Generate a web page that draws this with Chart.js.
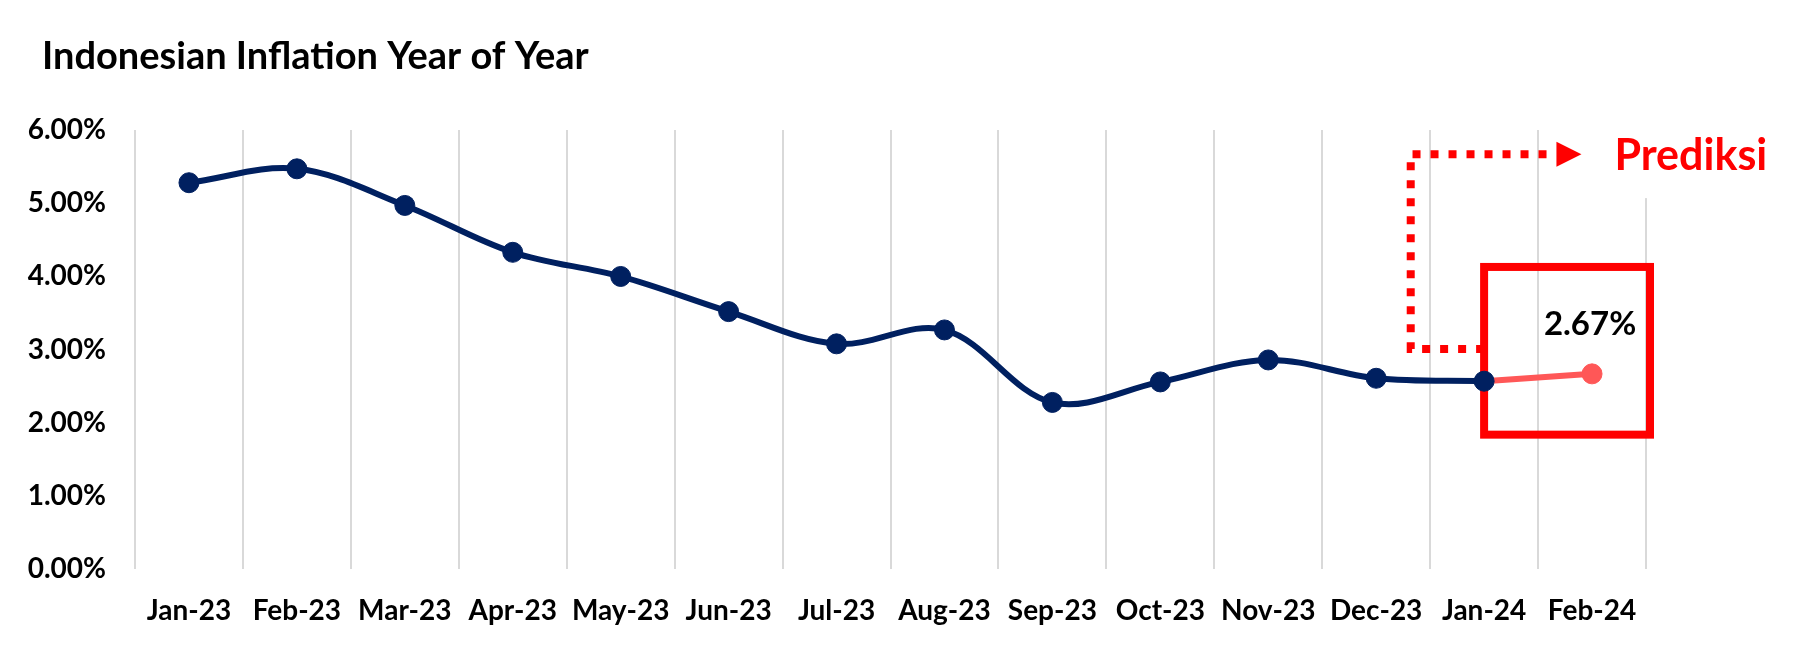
<!DOCTYPE html>
<html>
<head>
<meta charset="utf-8">
<title>Indonesian Inflation Year of Year</title>
<script src="https://cdn.jsdelivr.net/npm/chart.js@4.4.1/dist/chart.umd.min.js"></script>
<style>
  body { margin: 0; background: #fff; }
  canvas { display: block; }
</style>
</head>
<body>
<canvas id="grafik" width="1800" height="653"></canvas>
<script>
const judul = 'Indonesian Inflation Year of Year';
const bulan = ['Jan-23', 'Feb-23', 'Mar-23', 'Apr-23', 'May-23', 'Jun-23', 'Jul-23', 'Aug-23', 'Sep-23', 'Oct-23', 'Nov-23', 'Dec-23', 'Jan-24', 'Feb-24'];
const inflasi = [5.28, 5.47, 4.97, 4.33, 4.00, 3.52, 3.08, 3.27, 2.28, 2.56, 2.86, 2.61, 2.57, null];
const prediksi = [null, null, null, null, null, null, null, null, null, null, null, null, 2.57, 2.67];
const teksPrediksi = 'Prediksi';
const labelPrediksi = '2.67%';

Chart.defaults.font.family = 'Lato';

// kotak, panah dan teks "Prediksi"
const anotasi = {
    id: 'anotasi',
    beforeDatasetsDraw(chart) {
        const { ctx, scales: { x, y } } = chart;
        ctx.save();

        // latar putih di belakang teks (menutup garis grid terakhir)
        ctx.fillStyle = '#ffffff';
        const putihAtas = y.getPixelForValue(6) - 4;
        ctx.fillRect(x.right - 40, putihAtas, chart.width - x.right + 40, y.getPixelForValue(5.07) - putihAtas);

        const kiri = x.getPixelForValue(12);
        const kanan = x.right + 4;
        const atas = y.getPixelForValue(4.13);
        const bawah = y.getPixelForValue(1.84);

        // panah titik-titik
        const px = x.getPixelForValue(11.32);
        const yAtas = y.getPixelForValue(5.67);
        const yBawah = y.getPixelForValue(3.01);
        const ujung = x.getPixelForValue(12.67);
        ctx.strokeStyle = '#FF0000';
        ctx.lineWidth = 8;
        ctx.setLineDash([8, 10]);
        ctx.beginPath();
        ctx.moveTo(kiri, yBawah);
        ctx.lineTo(px, yBawah);
        ctx.lineTo(px, yAtas);
        ctx.lineTo(ujung, yAtas);
        ctx.stroke();
        ctx.setLineDash([]);

        ctx.fillStyle = '#FF0000';
        ctx.beginPath();
        ctx.moveTo(ujung, yAtas - 12.5);
        ctx.lineTo(ujung + 25, yAtas);
        ctx.lineTo(ujung, yAtas + 12.5);
        ctx.closePath();
        ctx.fill();

        // kotak merah
        ctx.strokeRect(kiri, atas, kanan - kiri, bawah - atas);

        ctx.font = 'bold 43px Lato';
        ctx.textAlign = 'left';
        ctx.textBaseline = 'middle';
        ctx.fillText(teksPrediksi, ujung + 58, yAtas + 2);
        ctx.restore();
    },
    afterDatasetsDraw(chart) {
        const { ctx } = chart;
        const titik = chart.getDatasetMeta(1).data[13];
        ctx.save();
        ctx.font = 'bold 33px Lato';
        ctx.fillStyle = '#000000';
        ctx.textAlign = 'center';
        ctx.textBaseline = 'middle';
        ctx.fillText(labelPrediksi, titik.x - 2, titik.y - 50);
        ctx.restore();
    },
    afterDraw(chart) {
        const { ctx } = chart;
        ctx.save();
        ctx.font = 'bold 38px Lato';
        ctx.fillStyle = '#000000';
        ctx.textAlign = 'left';
        ctx.textBaseline = 'alphabetic';
        ctx.fillText(judul, 42, 69);
        ctx.restore();
    }
};

const fontSumbu = { family: 'Lato', weight: 'bold' };

new Chart(document.getElementById('grafik'), {
    type: 'line',
    data: {
        labels: bulan,
        datasets: [
            {
                label: 'Inflasi',
                data: inflasi,
                borderColor: '#002060',
                backgroundColor: '#002060',
                borderWidth: 6,
                tension: 0.35,
                pointRadius: 10,
                pointBorderWidth: 1,
                pointBackgroundColor: '#002060',
                pointBorderColor: '#002060'
            },
            {
                label: 'Prediksi',
                data: prediksi,
                borderColor: '#FF5757',
                backgroundColor: '#FF5757',
                borderWidth: 6,
                pointRadius: ctx => ctx.dataIndex === 13 ? 10 : 0,
                pointBorderWidth: 1,
                pointBackgroundColor: '#FF5757',
                pointBorderColor: '#FF5757'
            }
        ]
    },
    options: {
        responsive: false,
        animation: false,
        layout: {
            padding: { top: 130, right: 154, bottom: 0, left: 27 }
        },
        plugins: {
            legend: { display: false },
            title: { display: false },
            tooltip: { enabled: false }
        },
        scales: {
            x: {
                offset: true,
                grid: { offset: true, color: '#D9D9D9', lineWidth: 2, drawTicks: false },
                border: { display: false },
                ticks: {
                    color: '#000000',
                    font: { ...fontSumbu, size: 28 },
                    padding: 25,
                    maxRotation: 0,
                    autoSkip: false
                }
            },
            y: {
                min: 0,
                max: 6,
                afterFit: s => { s.width = 108; },
                grid: { display: false, drawTicks: false },
                border: { display: false },
                ticks: {
                    stepSize: 1,
                    color: '#000000',
                    padding: 29,
                    font: { ...fontSumbu, size: 28 },
                    callback: v => v.toFixed(2) + '%'
                }
            }
        }
    },
    plugins: [anotasi]
});
</script>
</body>
</html>
